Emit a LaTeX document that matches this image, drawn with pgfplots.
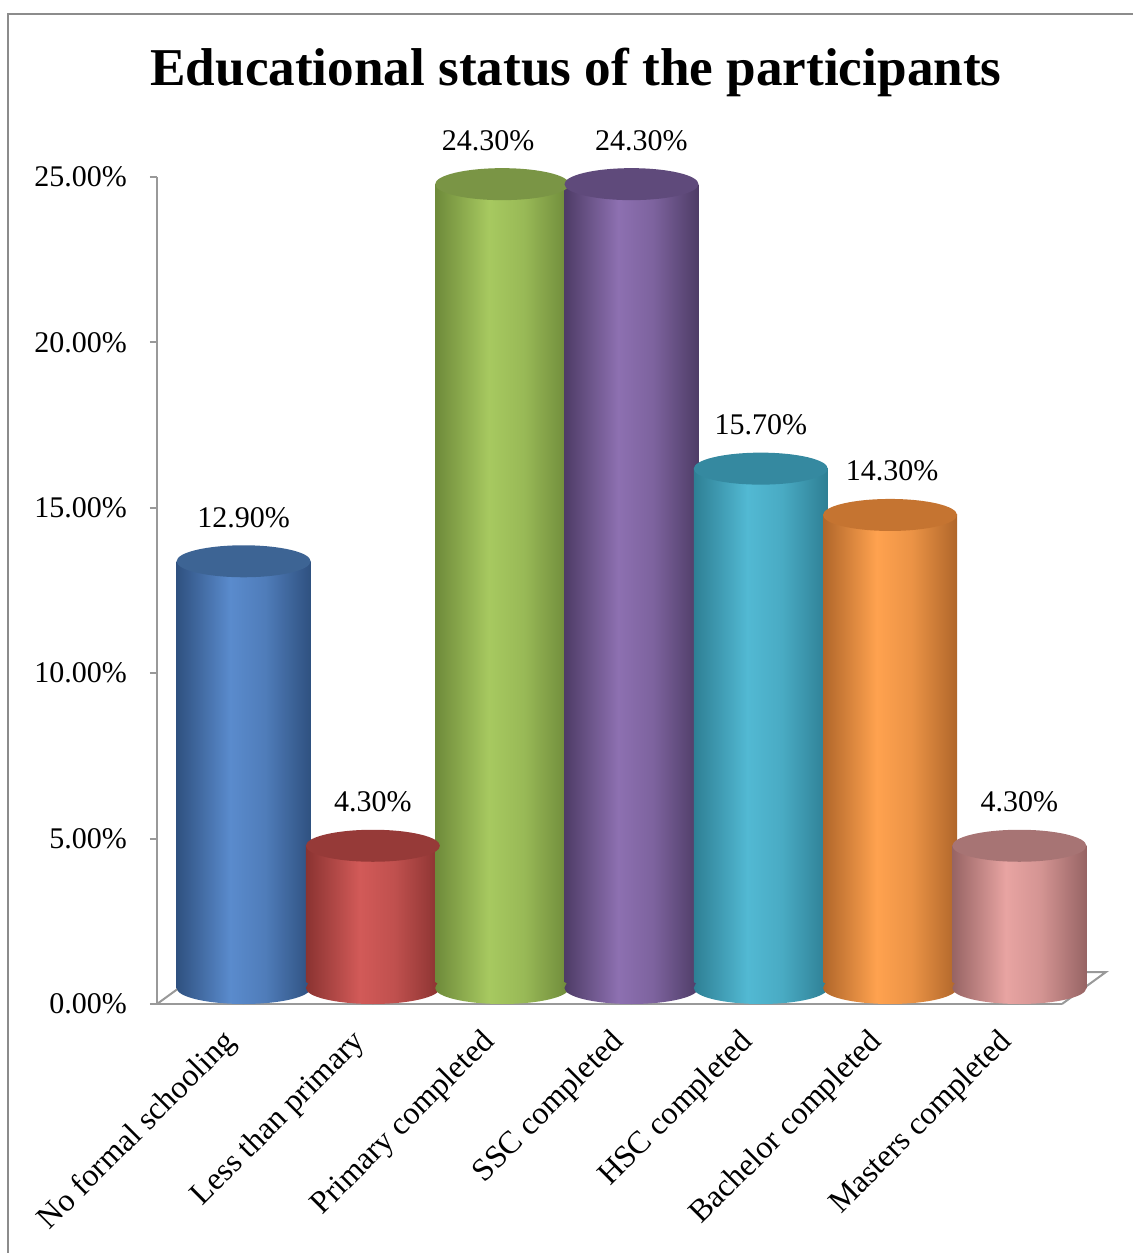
\documentclass[border=0pt]{standalone}
\usepackage{pgfplots}
\pgfplotsset{compat=1.18}
\usepackage{fontspec}
\setmainfont{Liberation Serif}

\newcommand\defcyl[4]{%
 \definecolor{#1D}{HTML}{#2}\definecolor{#1L}{HTML}{#3}\colorlet{#1M}{#1L!75!#1D}\definecolor{#1T}{HTML}{#4}%
 \pgfdeclarehorizontalshading{#1sh}{100bp}{color(0bp)=(#1D); color(25bp)=(#1D); color(45bp)=(#1L); color(58bp)=(#1M); color(75bp)=(#1D); color(100bp)=(#1D)}%
 \pgfdeclareplotmark{#1bot}{\pgfpathellipse{\pgfpointorigin}{\pgfpoint{33.5pt}{0pt}}{\pgfpoint{0pt}{8pt}}\pgfshadepath{#1sh}{0}\pgfusepath{}}%
 \pgfdeclareplotmark{#1top}{\pgfpathellipse{\pgfpointorigin}{\pgfpoint{33.5pt}{0pt}}{\pgfpoint{0pt}{8pt}}\pgfsetfillcolor{#1T}\pgfusepath{fill}}%
}
\defcyl{cA}{2F5180}{5A8BCD}{3D6494}
\defcyl{cB}{8A3331}{D25A58}{963A38}
\defcyl{cC}{6E8A3A}{A7C960}{7A9545}
\defcyl{cD}{4E3C66}{8D70B1}{5F4A7B}
\defcyl{cE}{2E7F94}{52B9D3}{3589A0}
\defcyl{cF}{B0662A}{FFA24F}{C57431}
\defcyl{cG}{976464}{E8A4A2}{A77474}

\newcommand\cyl[4]{%
 \addplot[yshift=8pt, only marks, mark=#3bot, forget plot] coordinates {(#1,0)};
 \addplot[yshift=8pt, ybar, bar width=67pt, draw=none, shade, shading=#3sh, forget plot] coordinates {(#1,#2)};
 \addplot[yshift=8pt, only marks, mark=#3top, forget plot,
   nodes near coords={\pgfmathprintnumber[fixed,fixed zerofill,precision=2]{\pgfplotspointmeta}\%},
   every node near coord/.append style={font=\fontsize{15}{18}\selectfont, anchor=base, yshift=17pt, xshift=#4, text=black}] coordinates {(#1,#2)};
}

\begin{document}
\begin{tikzpicture}
\useasboundingbox (-78.5pt,-124.5pt) rectangle (487.5pt,502pt);
\draw[color=black!45, line width=1pt] (-74.25pt,-130pt) -- (-74.25pt,494.75pt) -- (495pt,494.75pt);
\begin{axis}[
 at={(0pt,0pt)}, anchor=south west,
 scale only axis, width=452.5pt, height=413.5pt,
 xmin=-0.67, xmax=6.33, ymin=0, ymax=25,
 clip=false,
 axis x line*=bottom, axis y line*=left,
 axis line style={-, draw=black!40, line width=1pt},
 every outer x axis line/.append style={-},
 every outer y axis line/.append style={-},
 /pgf/number format/assume math mode=true,
 ytick={0,5,...,25},
 yticklabel={\pgfmathprintnumber[fixed,fixed zerofill,precision=2]{\tick}\%},
 yticklabel style={font=\fontsize{15}{18}\selectfont, xshift=-8pt},
 tick align=outside, major tick length=3.5pt,
 ytick style={draw=black!40, line width=1pt},
 xtick={0,...,6}, xtick style={draw=none},
 xticklabels={No formal schooling, Less than primary, Primary completed, SSC completed, HSC completed, Bachelor completed, Masters completed},
 xticklabel style={rotate=45, anchor=north east, font=\fontsize{16}{19}\selectfont, xshift=-10.2pt, yshift=5.7pt},
 title={Educational status of the participants},
 title style={font=\bfseries\fontsize{26.6}{32}\selectfont, at={(axis description cs:0.463,1.096)}, anchor=base},
]
\draw[black!40, line width=1pt] (axis cs:-0.67,0) -- ([xshift=22pt,yshift=16pt]axis cs:-0.67,0) -- ([xshift=22pt,yshift=16pt]axis cs:6.33,0) -- (axis cs:6.33,0);
\cyl{0}{12.9}{cA}{0pt}
\cyl{1}{4.3}{cB}{0pt}
\cyl{2}{24.3}{cC}{-7pt}
\cyl{3}{24.3}{cD}{5pt}
\cyl{4}{15.7}{cE}{0pt}
\cyl{5}{14.3}{cF}{1pt}
\cyl{6}{4.3}{cG}{0pt}
\end{axis}
\end{tikzpicture}
\end{document}
